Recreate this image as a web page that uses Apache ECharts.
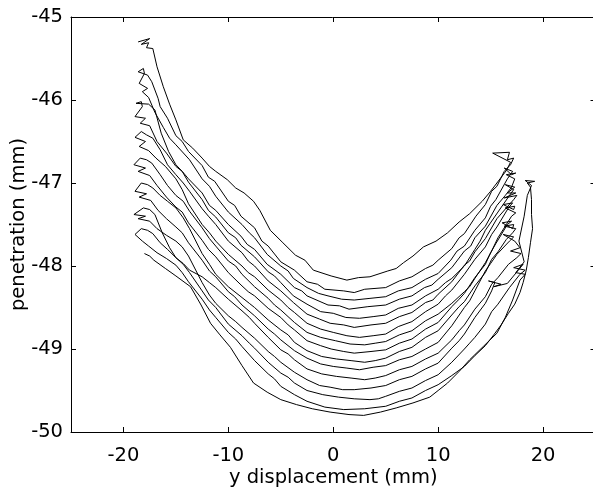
<!DOCTYPE html>
<html><head><meta charset="utf-8">
<script src="https://cdn.jsdelivr.net/npm/echarts@6/dist/echarts.min.js"></script>
<style>html,body{margin:0;padding:0;background:#fff}#c{width:593px;height:489px}</style>
</head><body><div id="c"></div>
<script>
const xTicks = [-20, -10, 0, 10, 20];
const yTicks = [-50, -49, -48, -47, -46, -45];

// each pass written left -> right; even passes are travelled right -> left
const pass01 = [[-18.6,-45.30],[-17.5,-45.26],[-18.3,-45.33],[-17.6,-45.31],[-17.8,-45.37],[-17.2,-45.38],[-16.8,-45.6],[-16.2,-45.84],[-15.6,-46.05],[-15.0,-46.24],[-14.3,-46.48],[-13.4,-46.58],[-12.5,-46.7],[-11.8,-46.8],[-11.2,-46.86],[-10.1,-46.96],[-9.3,-47.06],[-8.5,-47.12],[-7.6,-47.22],[-7.0,-47.33],[-6.0,-47.57],[-4.8,-47.72],[-3.6,-47.87],[-2.7,-47.93],[-1.9,-48.05],[-0.2,-48.12],[1.3,-48.17],[2.4,-48.14],[3.5,-48.13],[5.2,-48.06],[6.0,-48.03],[6.7,-47.96],[7.6,-47.88],[8.6,-47.77],[9.8,-47.7],[10.9,-47.60],[12.0,-47.47],[13.0,-47.37],[14.2,-47.22],[15.0,-47.1],[15.9,-46.95],[16.5,-46.85],[16.9,-46.75],[15.2,-46.64],[16.8,-46.63],[16.6,-46.72]];
const pass02 = [[-18.1,-45.62],[-18.6,-45.66],[-17.7,-45.7],[-17.3,-45.78],[-16.7,-45.98],[-16.5,-46.08],[-15.8,-46.22],[-15.0,-46.43],[-14.4,-46.5],[-13.8,-46.62],[-12.5,-46.79],[-11.9,-46.93],[-11.3,-46.98],[-10.0,-47.22],[-9.4,-47.27],[-8.8,-47.4],[-7.5,-47.54],[-6.8,-47.7],[-6.2,-47.76],[-5.0,-47.95],[-3.7,-48.05],[-2.5,-48.19],[-1.5,-48.22],[-0.8,-48.28],[1.0,-48.3],[2.0,-48.32],[3.0,-48.28],[5.0,-48.26],[6.3,-48.18],[7.5,-48.13],[8.8,-48.03],[9.5,-47.99],[10.0,-47.93],[11.3,-47.79],[12.0,-47.66],[12.5,-47.61],[13.6,-47.4],[14.5,-47.26],[15.1,-47.1],[15.6,-47.04],[16.3,-46.86],[16.9,-46.78],[17.2,-46.7]];
const pass03 = [[-18.0,-45.68],[-18.5,-45.8],[-17.7,-45.86],[-18.2,-45.9],[-17.6,-45.97],[-17.0,-46.15],[-16.2,-46.33],[-15.6,-46.46],[-15.0,-46.54],[-13.7,-46.72],[-12.5,-46.95],[-11.8,-47.04],[-11.2,-47.16],[-10.0,-47.35],[-8.7,-47.5],[-8.0,-47.6],[-7.5,-47.66],[-6.3,-47.86],[-5.0,-48.0],[-4.3,-48.06],[-3.8,-48.15],[-2.5,-48.26],[-1.4,-48.33],[-0.5,-48.36],[0.8,-48.4],[2.0,-48.41],[3.5,-48.39],[5.0,-48.37],[6.2,-48.3],[7.5,-48.26],[8.8,-48.16],[10.0,-48.09],[11.2,-47.93],[11.8,-47.82],[12.5,-47.76],[13.5,-47.57],[14.5,-47.42],[15.0,-47.28],[15.5,-47.2],[16.6,-46.95],[17.1,-46.86],[16.3,-46.82],[17.0,-46.9]];
const pass04 = [[-18.3,-46.02],[-18.8,-46.04],[-17.6,-46.05],[-17.0,-46.12],[-16.4,-46.4],[-15.7,-46.62],[-15.0,-46.78],[-14.4,-46.86],[-13.8,-46.95],[-12.5,-47.12],[-11.8,-47.27],[-11.2,-47.33],[-10.0,-47.5],[-8.8,-47.64],[-8.2,-47.74],[-7.5,-47.8],[-6.3,-47.98],[-5.0,-48.1],[-3.7,-48.26],[-3.0,-48.3],[-2.5,-48.36],[-0.5,-48.47],[0.6,-48.48],[1.5,-48.52],[3.3,-48.49],[5.0,-48.47],[6.3,-48.4],[7.5,-48.36],[8.7,-48.26],[9.4,-48.23],[10.0,-48.16],[11.3,-48.02],[12.5,-47.82],[13.1,-47.76],[13.5,-47.66],[14.5,-47.52],[15.6,-47.27],[16.4,-47.15],[17.0,-47.05],[17.3,-46.95],[16.5,-46.9],[17.4,-46.88]];
const pass05 = [[-18.2,-46.08],[-18.9,-46.2],[-17.9,-46.22],[-18.4,-46.28],[-17.5,-46.31],[-16.8,-46.5],[-15.9,-46.64],[-15.0,-46.8],[-14.4,-46.86],[-13.8,-46.99],[-12.5,-47.2],[-11.9,-47.33],[-11.2,-47.41],[-10.0,-47.6],[-9.3,-47.66],[-8.8,-47.75],[-7.5,-47.89],[-6.2,-48.07],[-5.6,-48.12],[-5.0,-48.2],[-3.8,-48.36],[-2.5,-48.46],[-1.2,-48.55],[0.0,-48.57],[1.2,-48.62],[2.5,-48.63],[3.8,-48.61],[5.0,-48.59],[6.2,-48.51],[7.5,-48.47],[8.8,-48.36],[10.0,-48.28],[10.7,-48.2],[11.3,-48.15],[12.5,-48.0],[13.5,-47.8],[14.0,-47.7],[14.5,-47.57],[15.7,-47.35],[16.8,-47.15],[17.2,-47.08],[16.4,-47.02],[17.3,-47.05],[16.6,-47.12]];
const pass06 = [[-18.3,-46.38],[-17.8,-46.42],[-17.2,-46.46],[-16.5,-46.6],[-15.8,-46.78],[-15.0,-46.9],[-14.3,-47.0],[-13.7,-47.1],[-12.5,-47.31],[-11.9,-47.4],[-11.2,-47.5],[-10.0,-47.7],[-8.7,-47.84],[-8.1,-47.94],[-7.5,-48.0],[-6.2,-48.18],[-5.0,-48.3],[-4.4,-48.37],[-3.8,-48.44],[-2.5,-48.58],[-1.3,-48.64],[-0.3,-48.69],[1.0,-48.71],[2.0,-48.74],[3.6,-48.71],[5.0,-48.69],[6.3,-48.61],[7.5,-48.56],[8.8,-48.44],[9.5,-48.41],[10.0,-48.34],[11.3,-48.19],[12.5,-47.99],[13.0,-47.94],[13.5,-47.83],[14.5,-47.67],[15.6,-47.43],[16.5,-47.3],[17.2,-47.2],[17.5,-47.15],[16.3,-47.18],[17.4,-47.12]];
const pass07 = [[-18.3,-46.38],[-18.9,-46.45],[-17.9,-46.5],[-18.5,-46.56],[-17.6,-46.61],[-16.9,-46.7],[-16.0,-46.8],[-15.0,-46.95],[-14.4,-47.08],[-13.8,-47.25],[-12.5,-47.5],[-11.8,-47.6],[-11.2,-47.7],[-10.0,-47.86],[-8.7,-48.0],[-8.1,-48.08],[-7.5,-48.13],[-6.2,-48.29],[-5.0,-48.41],[-4.3,-48.5],[-3.7,-48.56],[-2.5,-48.69],[-1.2,-48.76],[0.0,-48.8],[1.3,-48.84],[2.5,-48.86],[3.8,-48.84],[5.0,-48.82],[6.2,-48.73],[7.5,-48.67],[8.8,-48.55],[10.0,-48.46],[10.7,-48.36],[11.3,-48.29],[12.5,-48.1],[13.5,-47.92],[14.5,-47.77],[15.1,-47.62],[15.6,-47.53],[16.7,-47.3],[17.1,-47.24],[16.2,-47.26],[17.2,-47.32]];
const pass08 = [[-18.4,-46.7],[-17.8,-46.72],[-17.3,-46.76],[-16.5,-46.9],[-15.8,-47.03],[-15.0,-47.15],[-14.3,-47.22],[-13.7,-47.34],[-12.5,-47.54],[-11.8,-47.67],[-11.2,-47.76],[-10.0,-47.94],[-9.3,-48.0],[-8.7,-48.1],[-7.5,-48.25],[-6.2,-48.39],[-5.6,-48.47],[-5.0,-48.53],[-3.7,-48.68],[-2.5,-48.8],[-1.2,-48.86],[0.2,-48.9],[1.6,-48.94],[3.0,-48.95],[4.0,-48.93],[5.0,-48.91],[6.3,-48.83],[7.5,-48.78],[8.8,-48.66],[10.0,-48.58],[11.3,-48.45],[12.5,-48.31],[13.0,-48.25],[13.5,-48.15],[14.5,-47.96],[15.1,-47.82],[15.7,-47.66],[16.5,-47.5],[17.0,-47.4],[17.4,-47.36],[16.4,-47.3],[17.3,-47.28]];
const pass09 = [[-18.4,-46.7],[-19.0,-46.78],[-17.9,-46.82],[-18.6,-46.86],[-17.5,-46.91],[-16.8,-47.03],[-15.9,-47.17],[-15.0,-47.29],[-14.4,-47.35],[-13.8,-47.48],[-12.5,-47.69],[-11.9,-47.8],[-11.2,-47.89],[-10.0,-48.08],[-8.7,-48.24],[-8.1,-48.31],[-7.5,-48.36],[-6.2,-48.51],[-5.0,-48.62],[-4.3,-48.71],[-3.7,-48.77],[-2.5,-48.9],[-1.2,-48.96],[-0.2,-49.0],[1.0,-49.03],[2.0,-49.05],[3.6,-49.03],[5.0,-49.01],[6.3,-48.93],[7.5,-48.88],[8.8,-48.76],[10.0,-48.68],[11.3,-48.49],[12.0,-48.4],[12.5,-48.33],[13.5,-48.14],[14.5,-47.98],[15.0,-47.84],[15.5,-47.73],[16.6,-47.5],[17.0,-47.46],[16.1,-47.48],[17.1,-47.55]];
const pass10 = [[-18.3,-47.0],[-17.7,-47.02],[-17.2,-47.06],[-16.5,-47.15],[-15.8,-47.22],[-15.0,-47.3],[-14.3,-47.42],[-13.7,-47.55],[-12.5,-47.85],[-11.8,-47.98],[-11.2,-48.1],[-10.0,-48.25],[-8.7,-48.38],[-8.0,-48.45],[-7.5,-48.5],[-6.2,-48.65],[-5.0,-48.77],[-4.3,-48.83],[-3.7,-48.92],[-2.5,-49.02],[-1.1,-49.09],[0.3,-49.12],[1.7,-49.14],[3.0,-49.16],[4.0,-49.14],[5.0,-49.11],[6.3,-49.03],[7.5,-48.98],[8.8,-48.86],[10.0,-48.78],[11.3,-48.59],[12.0,-48.49],[12.5,-48.43],[13.5,-48.24],[14.5,-48.08],[15.1,-47.92],[15.7,-47.83],[16.5,-47.68],[17.1,-47.6],[17.4,-47.55],[16.3,-47.52],[17.2,-47.5]];
const pass11 = [[-18.3,-47.0],[-18.9,-47.1],[-17.8,-47.13],[-18.5,-47.17],[-17.4,-47.21],[-16.7,-47.33],[-15.9,-47.43],[-15.0,-47.53],[-14.4,-47.6],[-13.8,-47.72],[-12.5,-47.93],[-11.8,-48.06],[-11.2,-48.13],[-10.0,-48.31],[-9.4,-48.37],[-8.7,-48.47],[-7.5,-48.6],[-6.2,-48.76],[-5.6,-48.82],[-5.0,-48.89],[-3.7,-49.02],[-2.5,-49.11],[-1.2,-49.18],[0.0,-49.21],[1.3,-49.23],[2.5,-49.25],[3.8,-49.22],[5.0,-49.2],[6.3,-49.13],[7.5,-49.09],[8.8,-49.0],[10.0,-48.92],[11.3,-48.72],[12.5,-48.5],[13.0,-48.42],[13.5,-48.3],[14.5,-48.06],[15.0,-47.97],[15.6,-47.86],[16.8,-47.7],[17.2,-47.65],[16.2,-47.62],[17.3,-47.7]];
const pass12 = [[-18.1,-47.3],[-17.5,-47.32],[-17.0,-47.38],[-16.3,-47.6],[-15.6,-47.78],[-15.0,-47.9],[-14.3,-47.97],[-13.7,-48.05],[-12.5,-48.13],[-11.8,-48.2],[-11.2,-48.26],[-10.0,-48.4],[-8.7,-48.54],[-8.0,-48.62],[-7.5,-48.69],[-6.2,-48.86],[-5.0,-49.01],[-4.3,-49.06],[-3.7,-49.13],[-2.5,-49.24],[-1.1,-49.3],[0.3,-49.33],[1.7,-49.35],[3.0,-49.37],[4.0,-49.35],[5.0,-49.32],[6.3,-49.25],[7.5,-49.21],[8.8,-49.12],[10.0,-49.05],[11.3,-48.89],[12.0,-48.78],[12.5,-48.71],[13.5,-48.52],[14.5,-48.37],[15.1,-48.22],[15.7,-48.14],[16.7,-47.98],[17.5,-47.9],[17.9,-47.85],[16.9,-47.82],[17.8,-47.78]];
const pass13 = [[-18.1,-47.3],[-19.0,-47.38],[-17.9,-47.4],[-18.6,-47.43],[-17.5,-47.46],[-16.8,-47.55],[-15.9,-47.63],[-15.0,-47.7],[-14.4,-47.77],[-13.8,-47.88],[-12.5,-48.2],[-11.8,-48.35],[-11.2,-48.45],[-10.0,-48.6],[-9.3,-48.67],[-8.7,-48.74],[-7.5,-48.87],[-6.2,-49.03],[-5.6,-49.09],[-5.0,-49.16],[-3.7,-49.28],[-2.5,-49.37],[-1.3,-49.44],[-0.3,-49.46],[0.9,-49.49],[2.0,-49.49],[3.6,-49.47],[5.0,-49.44],[6.3,-49.37],[7.5,-49.33],[8.8,-49.24],[10.0,-49.17],[11.3,-48.99],[12.0,-48.9],[12.5,-48.82],[13.5,-48.62],[14.5,-48.45],[15.1,-48.3],[15.4,-48.2],[14.8,-48.18],[16.0,-48.22],[15.3,-48.25],[16.6,-48.21]];
const pass14 = [[-18.3,-47.55],[-17.7,-47.57],[-17.2,-47.61],[-16.5,-47.72],[-15.8,-47.8],[-15.0,-47.9],[-14.3,-47.98],[-13.7,-48.08],[-12.5,-48.3],[-11.9,-48.41],[-11.2,-48.5],[-10.0,-48.7],[-8.7,-48.84],[-8.0,-48.93],[-7.5,-48.99],[-6.2,-49.16],[-5.0,-49.29],[-4.3,-49.34],[-3.7,-49.41],[-2.5,-49.5],[-1.0,-49.55],[0.5,-49.58],[2.0,-49.6],[3.5,-49.61],[4.3,-49.6],[5.0,-49.57],[6.3,-49.51],[7.5,-49.47],[8.8,-49.38],[10.0,-49.31],[11.3,-49.16],[12.5,-49.0],[13.0,-48.93],[13.5,-48.86],[14.5,-48.7],[15.1,-48.55],[15.7,-48.46],[16.8,-48.26],[17.8,-48.1],[18.3,-48.05],[17.2,-48.02],[18.1,-47.98]];
const pass15 = [[-18.3,-47.55],[-18.9,-47.62],[-18.2,-47.7],[-17.6,-47.76],[-16.8,-47.84],[-15.9,-47.91],[-15.0,-47.99],[-14.4,-48.08],[-13.8,-48.19],[-12.5,-48.4],[-11.8,-48.53],[-11.2,-48.62],[-10.0,-48.8],[-9.3,-48.88],[-8.7,-48.97],[-7.5,-49.14],[-6.2,-49.3],[-5.6,-49.36],[-5.0,-49.45],[-3.7,-49.55],[-2.5,-49.63],[-0.8,-49.7],[1.0,-49.73],[3.0,-49.72],[5.0,-49.69],[6.3,-49.63],[7.5,-49.59],[8.8,-49.5],[10.0,-49.43],[11.3,-49.32],[12.5,-49.21],[13.5,-49.08],[14.5,-48.96],[15.3,-48.83],[16.0,-48.71],[16.7,-48.57],[17.3,-48.46],[17.8,-48.32],[18.1,-48.2],[18.4,-48.05],[18.6,-47.9],[18.8,-47.72],[19.0,-47.55],[18.9,-47.38],[18.9,-47.2],[18.8,-47.05],[18.5,-47.0],[19.2,-46.98],[18.3,-46.97],[18.9,-47.03]];
const pass16 = [[-18.0,-47.85],[-17.5,-47.88],[-17.1,-47.93],[-16.0,-48.03],[-15.0,-48.12],[-13.6,-48.25],[-12.6,-48.47],[-11.7,-48.69],[-10.8,-48.83],[-9.8,-48.98],[-8.7,-49.2],[-7.6,-49.41],[-6.3,-49.52],[-5.0,-49.61],[-3.5,-49.67],[-2.0,-49.72],[-0.3,-49.76],[1.5,-49.79],[2.9,-49.80],[4.5,-49.76],[6.0,-49.71],[7.6,-49.65],[9.2,-49.58],[10.0,-49.5],[10.9,-49.41],[12.0,-49.27],[13.0,-49.13],[14.3,-48.97],[15.6,-48.81],[16.4,-48.62],[17.1,-48.41],[17.8,-48.17],[18.3,-48.1],[17.4,-48.08],[18.2,-47.95],[17.7,-47.7],[18.2,-47.4],[18.5,-47.15]];

const passes = [pass01,pass02,pass03,pass04,pass05,pass06,pass07,pass08,pass09,pass10,pass11,pass12,pass13,pass14,pass15,pass16];
const trajectory = [];
passes.forEach((p, i) => {
  const seg = i % 2 === 0 ? p : p.slice().reverse();
  seg.forEach(pt => trajectory.push(pt));
});

const font = 'DejaVu Sans';
const fs = 19.5;
const chart = echarts.init(document.getElementById('c'), null, {renderer: 'canvas'});
const axisCommon = {
  type: 'value',
  axisLine: {show: true, onZero: false, lineStyle: {color: '#000', width: 1}},
  splitLine: {show: false}
};
chart.setOption({
  animation: false,
  backgroundColor: '#fff',
  grid: {left: 71, top: 17, right: -2.5, bottom: 57, containLabel: false, outerBoundsMode: 'none'},
  xAxis: [
    Object.assign({}, axisCommon, {
      min: -25, max: 25, position: 'bottom',
      name: 'y displacement (mm)', nameLocation: 'middle', nameGap: 36, nameMoveOverlap: false,
      nameTextStyle: {color: '#000', fontFamily: font, fontSize: fs},
      axisTick: {show: true, inside: true, length: 5, customValues: xTicks, lineStyle: {color: '#000'}},
      axisLabel: {customValues: xTicks, margin: 14, color: '#000', fontFamily: font, fontSize: fs}
    }),
    Object.assign({}, axisCommon, {
      min: -25, max: 25, position: 'top',
      axisTick: {show: true, inside: true, length: 5, customValues: xTicks, lineStyle: {color: '#000'}},
      axisLabel: {show: false}
    })
  ],
  yAxis: [
    Object.assign({}, axisCommon, {
      min: -50, max: -45, interval: 1, position: 'left',
      name: 'penetration (mm)', nameLocation: 'middle', nameGap: 42, nameMoveOverlap: false,
      nameTextStyle: {color: '#000', fontFamily: font, fontSize: fs},
      axisTick: {show: true, inside: true, length: 5, lineStyle: {color: '#000'}},
      axisLabel: {margin: 8, color: '#000', fontFamily: font, fontSize: fs}
    }),
    Object.assign({}, axisCommon, {
      min: -50, max: -45, interval: 1, position: 'right',
      axisTick: {show: true, inside: true, length: 5, lineStyle: {color: '#000'}},
      axisLabel: {show: false}
    })
  ],
  series: [{
    type: 'line', xAxisIndex: 0, yAxisIndex: 0,
    data: trajectory, showSymbol: false, symbol: 'none',
    lineStyle: {color: '#000', width: 1}
  }]
});
</script></body></html>
